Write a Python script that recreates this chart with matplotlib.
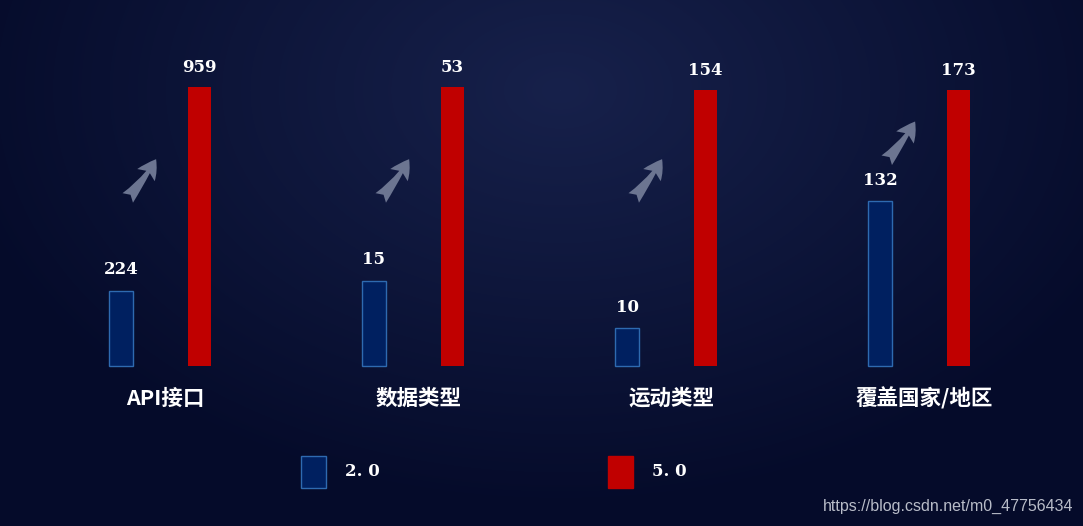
import numpy as np
import matplotlib.pyplot as plt
from matplotlib.patches import FancyArrowPatch, Rectangle

categories = ['API接口', '数据类型', '运动类型', '覆盖国家/地区']
old_labels = ['224', '15', '10', '132']     # version 2.0
new_labels = ['959', '53', '154', '173']    # version 5.0
# drawn bar lengths in the infographic (percent of tallest bar)
old_shown = [27, 30.5, 13.5, 59]
new_shown = [100, 100, 99, 99]
legend_names = ['2. 0', '5. 0']

W, H = 1083, 526
fig = plt.figure(figsize=(W / 100, H / 100), dpi=100)

# dark navy radial background
bg = fig.add_axes([0, 0, 1, 1])
yy, xx = np.mgrid[0:H, 0:W]
d = np.sqrt(((xx - 560) / 620.0) ** 2 + ((yy - 90) / 420.0) ** 2)
d = np.clip(d, 0, 1)
c_in = np.array([0x17, 0x21, 0x4b]) / 255.0
c_out = np.array([0x05, 0x0b, 0x2a]) / 255.0
img = c_in[None, None, :] * (1 - d[..., None]) + c_out[None, None, :] * d[..., None]
bg.imshow(img, extent=[0, W, H, 0], aspect='auto')
bg.axis('off')

ax = fig.add_axes([0, 0, 1, 1])
ax.patch.set_alpha(0)
gap = 253.0
ax.set_xlim(-160 / gap, (W - 160) / gap)
ax.set_ylim(-160 / 2.79, (H - 160) / 2.79)
ax.axis('off')

x = np.arange(len(categories))
off = 39 / gap
ax.bar(x - off, old_shown, width=24 / gap, color='#002060', edgecolor='#2e6ab0', linewidth=1)
ax.bar(x + off, new_shown, width=23 / gap, color='#c00000')

for i in range(len(categories)):
    ax.annotate(old_labels[i], (x[i] - off, old_shown[i]), xytext=(0, 9), textcoords='offset points',
                ha='center', va='bottom', color='white', fontsize=12, fontweight='bold', family='DejaVu Serif')
    ax.annotate(new_labels[i], (x[i] + off, new_shown[i]), xytext=(0, 8), textcoords='offset points',
                ha='center', va='bottom', color='white', fontsize=12, fontweight='bold', family='DejaVu Serif')
    ax.text(x[i] + 0.02, -11.5, categories[i], ha='center', va='center', color='white',
            fontsize=15.5, fontweight='bold', family=['Noto Sans CJK SC', 'DejaVu Sans'])
    # decorative growth arrow
    y0 = old_shown[i] + 14 if i == 3 else 59.5
    arr = FancyArrowPatch((x[i] - 0.135, y0), (x[i] - 0.01, y0 + 15.5),
                          connectionstyle='arc3,rad=0.06',
                          arrowstyle='fancy,head_length=4,head_width=4.5,tail_width=3',
                          color='#6c7591', mutation_scale=3.4, lw=0)
    ax.add_patch(arr)

# legend
lx = [301, 608]
cols = [('#002060', '#2e6ab0'), ('#c00000', '#c00000')]
for j in range(2):
    fig.patches.append(Rectangle((lx[j] / W, (H - 488) / H), 25 / W, 32 / H, transform=fig.transFigure,
                                 facecolor=cols[j][0], edgecolor=cols[j][1], linewidth=1))
    fig.text((lx[j] + 44) / W, (H - 472) / H, legend_names[j], color='white', fontsize=12,
             fontweight='bold', family='DejaVu Serif', va='center')

fig.text(1073 / W, (H - 506) / H, 'https://blog.csdn.net/m0_47756434', color='#b8bcc8',
         fontsize=11.5, family='Liberation Sans', ha='right', va='center')

fig.savefig('out.png', dpi=100)
